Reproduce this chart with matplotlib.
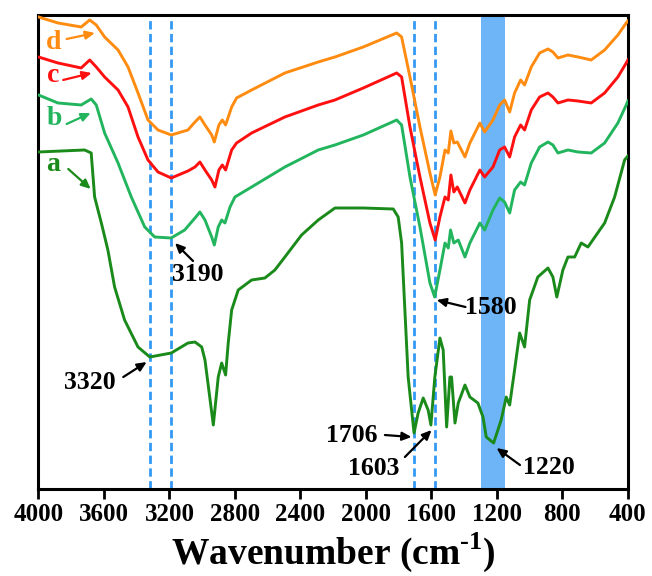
import matplotlib
matplotlib.use("Agg")
import matplotlib.pyplot as plt

plt.rcParams['font.family'] = ['Liberation Serif', 'DejaVu Serif']
plt.rcParams['font.weight'] = 'bold'
plt.rcParams['mathtext.fontset'] = 'custom'
plt.rcParams['mathtext.rm'] = 'Liberation Serif:bold'
plt.rcParams['mathtext.bf'] = 'Liberation Serif:bold'

# ---- data (wavenumber cm-1, transmittance a.u.) ----
wn_a = [4000, 3718, 3678, 3657, 3616, 3576, 3535, 3474, 3392, 3320, 3189, 3087, 3044, 3003,
        2983, 2932, 2902, 2881, 2857, 2841, 2820, 2780, 2698, 2617, 2556, 2495, 2393, 2291,
        2189, 2118, 2016, 1833, 1803, 1782, 1762, 1742, 1706, 1681, 1650, 1620, 1603, 1579,
        1548, 1528, 1507, 1487, 1477, 1456, 1436, 1395, 1365, 1316, 1285, 1265, 1220, 1174,
        1143, 1122, 1092, 1061, 1031, 1000, 950, 888, 858, 834, 797, 766, 725, 685, 644, 542,
        481, 420, 400]
t_a = [337, 339, 336, 292, 266, 239, 202, 169, 142, 132, 136, 146, 147, 142,
       129, 64, 112, 126, 114, 146, 179, 199, 209, 211, 219, 232, 254, 269,
       281, 281, 281, 280, 272, 246, 179, 112, 56, 76, 91, 79, 64, 112,
       151, 139, 62, 112, 112, 66, 86, 104, 92, 86, 72, 52, 46, 69,
       92, 84, 119, 156, 142, 189, 212, 221, 212, 192, 219, 232, 232, 246, 242, 266,
       292, 329, 333]

wn_b = [4000, 3881, 3739, 3678, 3647, 3596, 3514, 3433, 3351, 3290, 3190, 3107, 3044, 3014,
        2983, 2942, 2926, 2902, 2881, 2861, 2830, 2800, 2698, 2495, 2291, 2189, 2016, 1812,
        1782, 1731, 1670, 1609, 1580, 1548, 1517, 1497, 1483, 1463, 1436, 1395, 1365, 1304,
        1275, 1224, 1183, 1153, 1122, 1092, 1055, 1031, 990, 939, 888, 858, 827, 766, 705,
        624, 542, 461, 410, 400]
t_b = [394, 386, 384, 390, 384, 356, 326, 292, 262, 252, 251, 259, 271, 277,
       269, 252, 244, 262, 269, 266, 282, 292, 302, 322, 339, 344, 354, 369,
       364, 312, 262, 206, 192, 219, 246, 241, 259, 246, 249, 232, 246, 266,
       259, 279, 291, 287, 276, 299, 307, 304, 326, 342, 347, 344, 336, 339, 337,
       336, 346, 366, 384, 388]

wn_c = [4000, 3881, 3739, 3687, 3647, 3596, 3514, 3453, 3392, 3331, 3270, 3189, 3087, 3044,
        3014, 2983, 2942, 2922, 2898, 2877, 2857, 2820, 2790, 2698, 2495, 2291, 2189, 2016,
        1812, 1782, 1731, 1670, 1609, 1577, 1548, 1517, 1497, 1481, 1463, 1442, 1395, 1365,
        1304, 1275, 1224, 1183, 1153, 1122, 1092, 1055, 1031, 990, 939, 888, 858, 827, 766,
        705, 624, 542, 461, 410, 400]
t_c = [432, 426, 421, 429, 422, 412, 399, 382, 352, 329, 317, 311, 318, 322,
       327, 319, 309, 302, 319, 324, 319, 339, 346, 356, 372, 384, 389, 401,
       416, 412, 362, 312, 266, 249, 272, 292, 289, 314, 297, 302, 286, 299,
       319, 312, 322, 339, 342, 332, 352, 364, 359, 379, 392, 396, 392, 386, 389,
       388, 386, 396, 412, 426, 429]

wn_d = [4000, 3881, 3739, 3687, 3647, 3596, 3514, 3453, 3392, 3331, 3270, 3189, 3087, 3044,
        3014, 2983, 2942, 2926, 2898, 2877, 2857, 2820, 2790, 2698, 2495, 2291, 2189, 2016,
        1812, 1782, 1731, 1670, 1609, 1577, 1548, 1517, 1497, 1481, 1463, 1442, 1395, 1365,
        1304, 1275, 1224, 1183, 1153, 1122, 1092, 1055, 1031, 990, 939, 888, 858, 827, 766,
        705, 624, 542, 461, 410, 400]
t_d = [472, 466, 462, 469, 464, 452, 439, 422, 396, 369, 359, 354, 359, 367,
       372, 364, 354, 347, 364, 369, 364, 382, 391, 399, 416, 427, 432, 442,
       456, 452, 412, 362, 316, 294, 312, 339, 336, 358, 346, 347, 332, 346,
       366, 357, 369, 384, 389, 377, 396, 409, 404, 422, 436, 440, 437, 431, 434,
       432, 429, 439, 454, 466, 468]

dashed_positions = [3320, 3190, 1706, 1580]
band = (1300, 1150)
x_ticks = [4000, 3600, 3200, 2800, 2400, 2000, 1600, 1200, 800, 400]

col_a = '#1A8A1A'
col_b = '#22B55E'
col_c = '#FF1010'
col_d = '#FF8C10'

fig = plt.figure(figsize=(6.52, 5.76), dpi=100)
ax = fig.add_axes([0.059, 0.151, 0.904, 0.823])

ax.axvspan(band[0], band[1], color='#6DB5F7', lw=0, zorder=1)
for xv in dashed_positions:
    ax.axvline(xv, color='#3399F5', lw=2.0, ls=(0, (3, 1.6)), zorder=2)

lw = 2.1
ax.plot(wn_a, t_a, color=col_a, lw=lw, zorder=3)
ax.plot(wn_b, t_b, color=col_b, lw=lw, zorder=3)
ax.plot(wn_c, t_c, color=col_c, lw=lw, zorder=3)
ax.plot(wn_d, t_d, color=col_d, lw=lw, zorder=3)

ax.set_xlim(4000, 400)
ax.set_ylim(0, 474)
ax.set_xticks(x_ticks)
ax.set_yticks([])
ax.tick_params(axis='x', direction='out', length=7, width=2, labelsize=18, pad=3)
for lab in ax.get_xticklabels():
    lab.set_fontweight('bold')
for s in ax.spines.values():
    s.set_linewidth(2.2)

ax.set_xlabel(r'Wavenumber (cm$^{\text{-1}}$)', fontsize=27, fontweight='bold', labelpad=3)

fs = 18.5
def arrow(head, tail, color='black'):
    ax.annotate('', xy=head, xytext=tail,
                arrowprops=dict(arrowstyle='-|>,head_length=0.55,head_width=0.25',
                                color=color, lw=1.6, shrinkA=0, shrinkB=0), zorder=5)

# numeric peak labels
ax.text(3026, 215, '3190', fontsize=fs, fontweight='bold', ha='center', va='center')
arrow((3166, 246), (3056, 228))
ax.text(3685, 107, '3320', fontsize=fs, fontweight='bold', ha='center', va='center')
arrow((3339, 127), (3482, 112))
ax.text(1392, 182, '1580', fontsize=fs, fontweight='bold', ha='left', va='center')
arrow((1568, 189), (1392, 182))
ax.text(2085, 54, '1706', fontsize=fs, fontweight='bold', ha='center', va='center')
arrow((1721, 52), (1884, 54))
ax.text(1951, 21, '1603', fontsize=fs, fontweight='bold', ha='center', va='center')
arrow((1599, 59), (1762, 32))
ax.text(882, 22, '1220', fontsize=fs, fontweight='bold', ha='center', va='center')
arrow((1202, 41), (1059, 24))

# curve letters
for letter, col, pos, head, tail in [
        ('d', col_d, (3905, 446), (3655, 456), (3828, 450)),
        ('c', col_c, (3911, 413), (3675, 416), (3849, 409)),
        ('b', col_b, (3905, 370), (3681, 376), (3828, 365)),
        ('a', col_a, (3911, 324), (3681, 300), (3818, 320))]:
    ax.text(pos[0], pos[1], letter, color=col, fontsize=fs + 1.5, fontweight='bold',
            ha='center', va='center')
    arrow(head, tail, color=col)

fig.savefig('out.png', dpi=100)
